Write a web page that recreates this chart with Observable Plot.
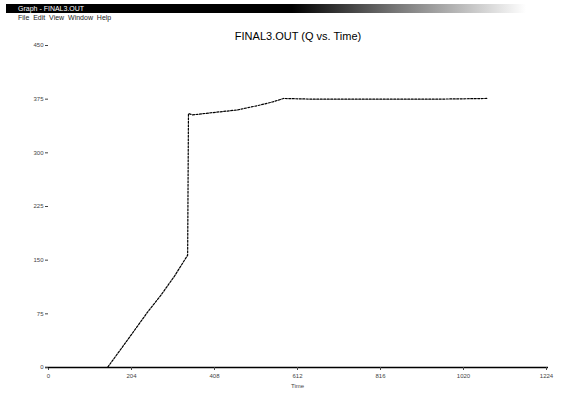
<!DOCTYPE html>
<html><head><meta charset="utf-8">
<script src="https://cdn.jsdelivr.net/npm/d3@7"></script>
<script src="https://cdn.jsdelivr.net/npm/@observablehq/plot@0.6"></script>
<style>
html,body{margin:0;padding:0;background:#fff;}
#wrap{position:relative;width:572px;height:400px;overflow:hidden;font-family:"Liberation Sans",Arial,sans-serif;}
#bar{position:absolute;left:6px;top:4px;width:520px;height:9px;background:linear-gradient(90deg,#000 0%,#000 55%,#777 75%,#fff 100%);color:#fff;font-size:7px;line-height:9px;padding-left:12px;box-sizing:border-box;white-space:nowrap;}
#menu{position:absolute;left:18px;top:14px;font-size:7px;color:#222;white-space:nowrap;}
#title{position:absolute;left:0;width:596px;top:30px;text-align:center;font-size:11px;color:#000;}
#chart{position:absolute;left:0;top:0;}
</style></head>
<body><div id="wrap">
<div id="chart"></div>
<div id="bar">Graph - FINAL3.OUT</div>
<div id="menu">File &nbsp;Edit &nbsp;View &nbsp;Window &nbsp;Help</div>
<div id="title">FINAL3.OUT (Q vs. Time)</div>
</div>
<script>
const time = [0, 145, 200, 243, 275, 310, 342, 344, 354, 400, 465, 514, 550, 578, 650, 800, 950, 1079];
const q    = [0, 0, 43, 77, 100, 128, 157, 355, 353, 356, 360, 366, 371, 376, 375, 375, 375, 376];
const xTicks = [0, 204, 408, 612, 816, 1020, 1224];
const yTicks = [0, 75, 150, 225, 300, 375, 450];
const data = time.map((t, i) => ({t, q: q[i]}));

const chart = Plot.plot({
  width: 572, height: 400,
  marginTop: 45, marginBottom: 33, marginLeft: 48, marginRight: 26,
  style: {fontFamily: "Liberation Sans, Arial, sans-serif", background: "transparent"},
  x: {domain: [0, 1224]},
  y: {domain: [0, 450]},
  marks: [
    Plot.ruleY([0], {stroke: "#000", strokeWidth: 1.5, insetLeft: -3, insetRight: -2}),
    Plot.axisX({ticks: xTicks, tickFormat: d3.format("d"), tickSize: 3, tickPadding: 3, fontSize: 6, color: "#444", label: "Time", labelAnchor: "center", labelArrow: "none", labelOffset: 20}),
    Plot.axisY({ticks: yTicks, tickFormat: d3.format("d"), tickSize: 3, tickPadding: 2, fontSize: 6, color: "#444", label: null}),
    Plot.line(data, {x: "t", y: "q", stroke: "#000", strokeWidth: 1.2, strokeDasharray: "2,1.5"})
  ]
});
document.getElementById("chart").appendChild(chart);
</script>
</body></html>
